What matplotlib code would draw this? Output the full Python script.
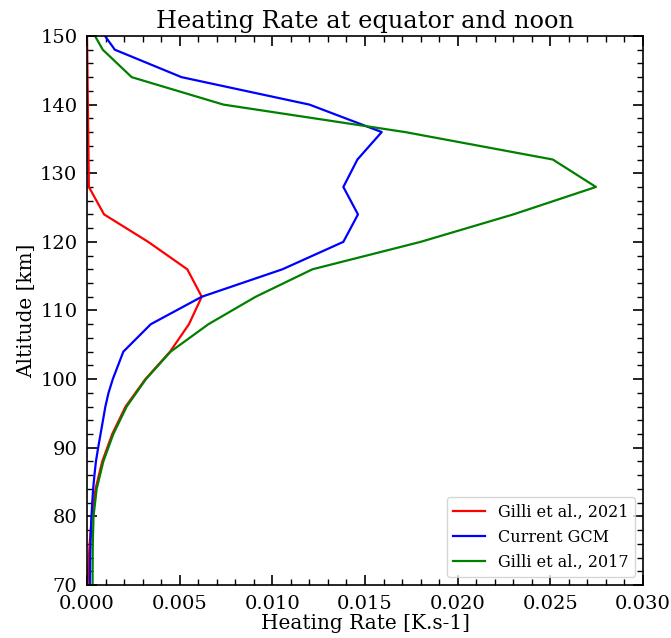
import numpy as np
import matplotlib
matplotlib.use('Agg')
import matplotlib.pyplot as plt
from matplotlib.ticker import AutoMinorLocator

plt.rcParams['font.family'] = ['DejaVu Serif']

# Altitudes [km]
alt_2021 = [150, 128, 124, 120, 116, 112, 108, 104, 100, 96, 92, 88, 84, 80, 76, 72, 70]
hr_2021 = [0.0, 0.0001, 0.00092, 0.0033, 0.00541, 0.00619, 0.0055, 0.00448, 0.00315,
           0.00208, 0.00136, 0.00082, 0.00046, 0.00026, 0.00014, 0.00006, 0.00003]

alt_gcm = [150, 148, 144, 140, 136, 132, 128, 124, 120, 116, 112, 108, 104, 100,
           98, 96, 94, 92, 90, 88, 86, 84, 82, 80, 78, 76, 74, 72, 70]
hr_gcm = [0.00097, 0.0015, 0.0051, 0.0120, 0.0159, 0.01459, 0.01383, 0.01462, 0.01383,
          0.01054, 0.00619, 0.00344, 0.00196, 0.00139,
          0.00116, 0.00099, 0.00086, 0.00073, 0.00060, 0.00048, 0.00040, 0.00033,
          0.00028, 0.00024, 0.00021, 0.00019, 0.00017, 0.00016, 0.00015]

alt_2017 = [150, 148, 144, 140, 136, 132, 128, 124, 120, 116, 112, 108, 104, 100,
            96, 92, 88, 84, 80, 76, 72, 70]
hr_2017 = [0.00043, 0.00085, 0.00241, 0.00736, 0.01716, 0.02513, 0.02746, 0.0230, 0.0180,
           0.01216, 0.0091, 0.00655, 0.00451, 0.00318,
           0.00214, 0.00142, 0.00088, 0.00052, 0.00035, 0.00031, 0.00030, 0.00030]

fig = plt.figure(figsize=(6.71, 6.38), dpi=100)
ax = fig.add_axes([0.1297, 0.0831, 0.8286, 0.8605])

ax.plot(hr_2021, alt_2021, color='red', lw=1.6, label='Gilli et al., 2021')
ax.plot(hr_gcm, alt_gcm, color='blue', lw=1.6, label='Current GCM')
ax.plot(hr_2017, alt_2017, color='green', lw=1.6, label='Gilli et al., 2017')

ax.set_xlim(0, 0.03)
ax.set_ylim(70, 150)
ax.set_xticks(np.arange(0, 0.0301, 0.005))
ax.xaxis.set_minor_locator(AutoMinorLocator(5))
ax.yaxis.set_minor_locator(AutoMinorLocator(5))
ax.tick_params(which='both', direction='in', top=True, right=True, labelsize=14)
ax.tick_params(which='major', length=7, width=1.2)
ax.tick_params(which='minor', length=4, width=1.0)
ax.tick_params(axis='x', which='major', pad=7)
ax.tick_params(axis='y', which='major', pad=7)
for s in ax.spines.values():
    s.set_linewidth(1.2)

ax.set_title('Heating Rate at equator and noon', fontsize=17.3, pad=6)
ax.set_xlabel('Heating Rate [K.s-1]', fontsize=14.4, labelpad=1)
ax.set_ylabel('Altitude [km]', fontsize=14.4, labelpad=3)
ax.legend(loc='lower right', fontsize=11.5)

fig.savefig('out.png', dpi=100)
